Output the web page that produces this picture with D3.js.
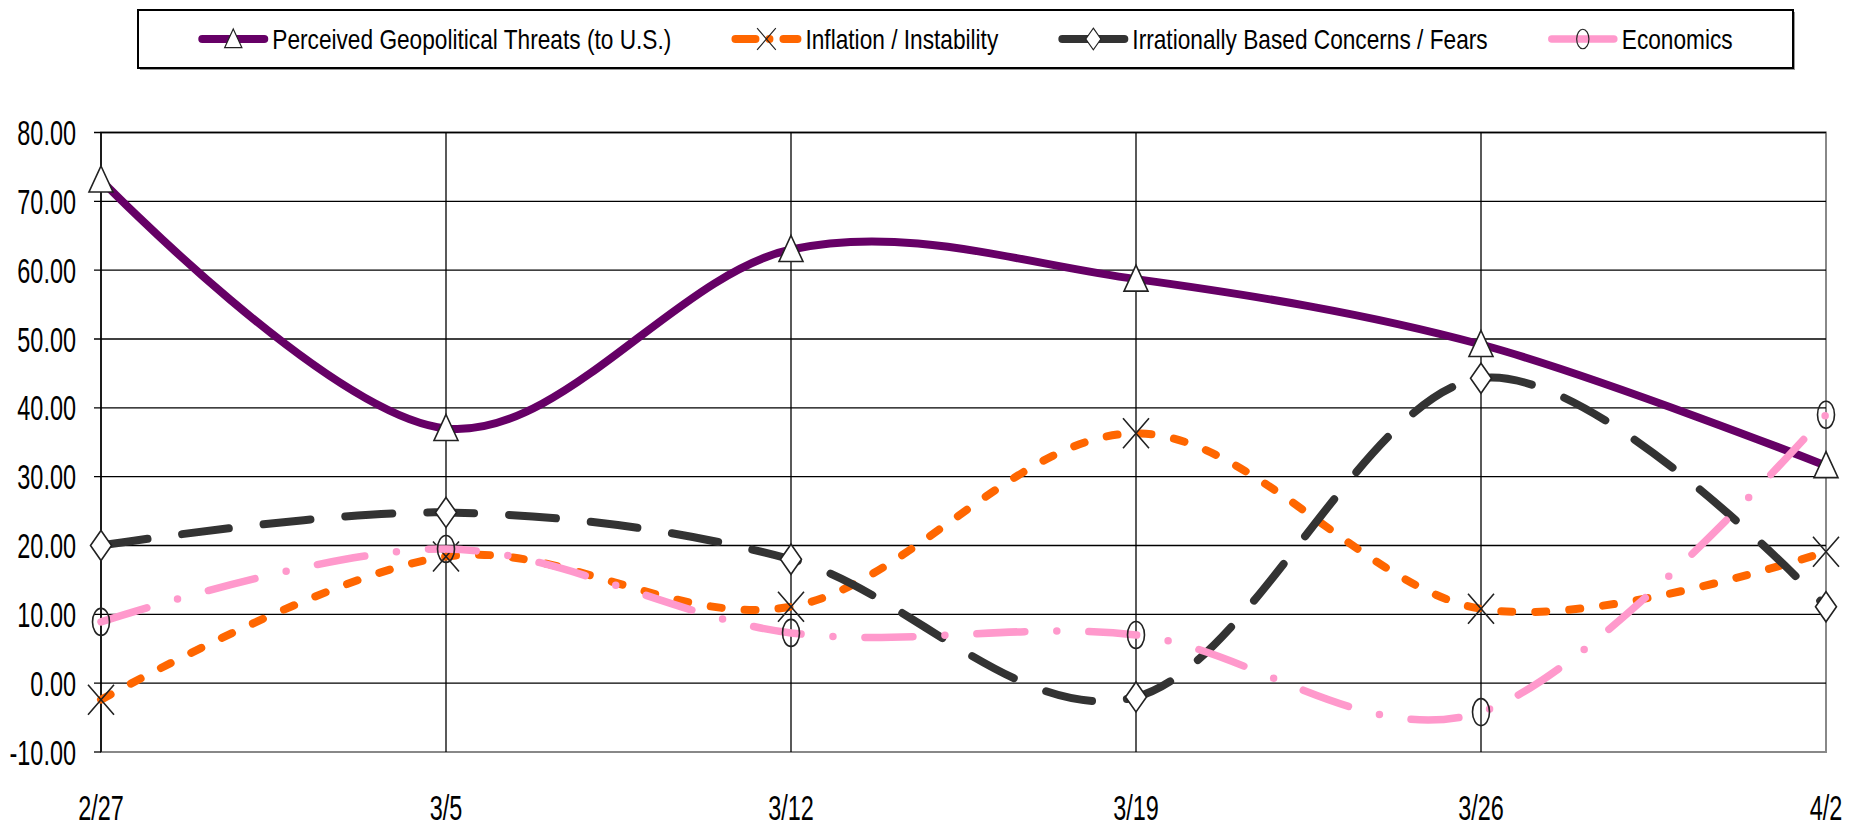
<!DOCTYPE html>
<html>
<head>
<meta charset="utf-8">
<script src="https://cdn.jsdelivr.net/npm/d3@7"></script>
<style>
  body { margin: 0; background: #fff; }
  svg { display: block; }
  text { font-family: "Liberation Sans", Arial, sans-serif; fill: #000; }
</style>
</head>
<body>
<svg id="chart" width="1857" height="826"></svg>
<script>
// chart data
var categories = ["2/27", "3/5", "3/12", "3/19", "3/26", "4/2"];
var yTicks = [-10, 0, 10, 20, 30, 40, 50, 60, 70, 80];
var seriesNames = ["Perceived Geopolitical Threats (to U.S.)", "Inflation / Instability",
                   "Irrationally Based Concerns / Fears", "Economics"];
var geopolitical = [73.1, 37.0, 63.0, 58.7, 49.2, 31.6];
var inflation    = [-2.4, 18.4, 11.1, 36.3, 10.8, 19.1];
var irrational   = [20.0, 24.8, 18.0, -2.0, 44.3, 11.1];
var economics    = [8.9, 19.5, 7.3, 7.0, -4.2, 39.0];

var svg = d3.select("#chart");

var plotLeft = 101, plotRight = 1826, plotTop = 132.5, plotBottom = 752;
var axisScale = 0.67;   // text in the reference is squeezed sideways
var legendScale = 0.81;

var x = d3.scalePoint().domain(categories).range([plotLeft, plotRight]);
var y = d3.scaleLinear().domain([-10, 80]).range([plotBottom, plotTop]);

// series look
var styles = [
  { color: "#660066", width: 8, dash: null, marker: "triangle" },
  { color: "#ff6600", width: 8, dash: "11 23", marker: "cross" },
  { color: "#333333", width: 8, dash: "47 35", marker: "diamond" },
  { color: "#ff99cc", width: 7.5, dash: "48 32 0 32", marker: "circle" }
];
var seriesValues = [geopolitical, inflation, irrational, economics];

var markerPaths = {
  triangle: "M0,-14L12,12L-12,12Z",
  diamond: "M0,-15L10.5,0L0,15L-10.5,0Z",
  cross: "M-13,-15L13,15M13,-15L-13,15",
  circle: null
};

function drawMarker(g, type) {
  if (type === "circle") {
    g.append("ellipse").attr("rx", 8.5).attr("ry", 13.5)
      .attr("fill", "none").attr("stroke", "#222").attr("stroke-width", 1.6);
  } else {
    g.append("path").attr("d", markerPaths[type])
      .attr("fill", type === "cross" ? "none" : "#fff")
      .attr("stroke", "#222").attr("stroke-width", 1.6);
  }
}

// plot frame + grid
svg.append("rect")
  .attr("x", plotLeft).attr("y", plotTop)
  .attr("width", plotRight - plotLeft).attr("height", plotBottom - plotTop)
  .attr("fill", "none").attr("stroke", "#888").attr("stroke-width", 2);

svg.append("g").selectAll("line")
  .data(yTicks.filter(function(d) { return d > -10; }))
  .enter().append("line")
  .attr("x1", plotLeft - 7).attr("x2", plotRight)
  .attr("y1", function(d) { return y(d); })
  .attr("y2", function(d) { return y(d); })
  .attr("stroke", "#000").attr("stroke-width", 1.3);

svg.append("line")
  .attr("x1", plotLeft - 7).attr("x2", plotLeft)
  .attr("y1", y(-10)).attr("y2", y(-10))
  .attr("stroke", "#000").attr("stroke-width", 1.3);

svg.append("g").selectAll("line")
  .data(categories.slice(1, -1))
  .enter().append("line")
  .attr("x1", function(d) { return x(d); })
  .attr("x2", function(d) { return x(d); })
  .attr("y1", plotTop).attr("y2", plotBottom)
  .attr("stroke", "#000").attr("stroke-width", 1.3);

svg.append("line")
  .attr("x1", plotLeft).attr("x2", plotLeft)
  .attr("y1", plotTop).attr("y2", plotBottom)
  .attr("stroke", "#000").attr("stroke-width", 1.6);

// y labels
svg.append("g").selectAll("text")
  .data(yTicks)
  .enter().append("text")
  .attr("transform", function(d) { return "translate(76," + (y(d) + 12.5) + ") scale(" + axisScale + ",1)"; })
  .attr("text-anchor", "end")
  .attr("font-size", 35)
  .text(function(d) { return d.toFixed(2); });

// x labels
svg.append("g").selectAll("text")
  .data(categories)
  .enter().append("text")
  .attr("transform", function(d) { return "translate(" + x(d) + ",820) scale(" + axisScale + ",1)"; })
  .attr("text-anchor", "middle")
  .attr("font-size", 35)
  .text(function(d) { return d; });

// lines
var line = d3.line()
  .x(function(d, i) { return x(categories[i]); })
  .y(function(d) { return y(d); })
  .curve(d3.curveCardinal.tension(0));

seriesValues.forEach(function(vals, s) {
  var st = styles[s];
  svg.append("path")
    .datum(vals)
    .attr("d", line)
    .attr("fill", "none")
    .attr("stroke", st.color)
    .attr("stroke-width", st.width)
    .attr("stroke-linecap", "round")
    .attr("stroke-dasharray", st.dash);

  svg.append("g").selectAll("g")
    .data(vals)
    .enter().append("g")
    .attr("transform", function(d, i) { return "translate(" + x(categories[i]) + "," + y(d) + ")"; })
    .each(function() { drawMarker(d3.select(this), st.marker); });
});

// legend
var legend = svg.append("g");
legend.append("rect")
  .attr("x", 140).attr("y", 12).attr("width", 1655).attr("height", 58)
  .attr("fill", "#999");
legend.append("rect")
  .attr("x", 138).attr("y", 10).attr("width", 1655).attr("height", 58)
  .attr("fill", "#fff").attr("stroke", "#000").attr("stroke-width", 2);

var sampleW = 70, textGap = 4, itemGap = 60;
var items = seriesNames.map(function(name, s) {
  var g = legend.append("g");
  var t = g.append("text")
    .attr("font-size", 28)
    .text(name);
  var w = t.node().getComputedTextLength() * legendScale;
  return { g: g, t: t, w: w, s: s };
});
var total = d3.sum(items, function(d) { return sampleW + textGap + d.w; }) + itemGap * (items.length - 1);
var cx = 138 + 1655 / 2;
var pos = cx - total / 2;
var ly = 39;
items.forEach(function(it) {
  var st = styles[it.s];
  it.g.insert("line", "text")
    .attr("x1", pos + 4).attr("x2", pos + sampleW - 4)
    .attr("y1", ly).attr("y2", ly)
    .attr("stroke", st.color).attr("stroke-width", st.width)
    .attr("stroke-linecap", "round")
    .attr("stroke-dasharray", it.s === 1 ? "20 14 0 14" : null);
  var m = it.g.insert("g", "text").attr("transform", "translate(" + (pos + sampleW / 2) + "," + ly + ") scale(0.72)");
  drawMarker(m, st.marker);
  it.t.attr("transform", "translate(" + (pos + sampleW + textGap) + "," + (ly + 10) + ") scale(" + legendScale + ",1)");
  pos += sampleW + textGap + it.w + itemGap;
});
</script>
</body>
</html>
